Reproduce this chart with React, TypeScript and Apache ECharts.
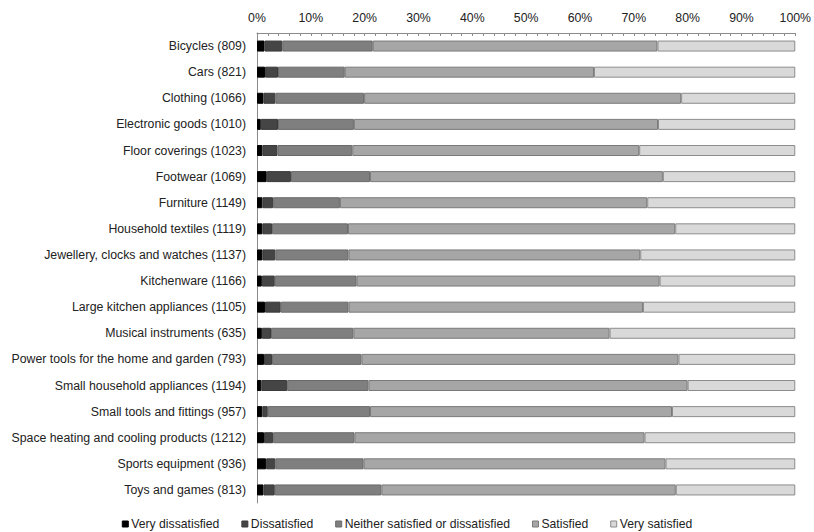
import React, { useEffect, useRef } from "react";
import * as echarts from "echarts";

const categories = [
  "Bicycles (809)",
  "Cars (821)",
  "Clothing (1066)",
  "Electronic goods (1010)",
  "Floor coverings (1023)",
  "Footwear (1069)",
  "Furniture (1149)",
  "Household textiles (1119)",
  "Jewellery, clocks and watches (1137)",
  "Kitchenware (1166)",
  "Large kitchen appliances (1105)",
  "Musical instruments (635)",
  "Power tools for the home and garden (793)",
  "Small household appliances (1194)",
  "Small tools and fittings (957)",
  "Space heating and cooling products (1212)",
  "Sports equipment (936)",
  "Toys and games (813)",
];

const veryDissatisfied = [1.4, 1.5, 1.2, 0.7, 1.0, 1.8, 1.0, 1.0, 1.0, 0.9, 1.5, 0.9, 1.3, 0.8, 1.0, 1.3, 1.7, 1.2];
const dissatisfied = [3.3, 2.4, 2.2, 3.2, 2.8, 4.5, 2.0, 1.8, 2.4, 2.4, 2.9, 1.7, 1.5, 4.8, 1.0, 1.7, 1.7, 2.1];
const neither = [16.8, 12.4, 16.5, 14.1, 13.9, 14.7, 12.4, 14.1, 13.6, 15.2, 12.6, 15.3, 16.6, 15.1, 19.0, 15.1, 16.4, 19.8];
const satisfied = [52.9, 46.3, 58.9, 56.5, 53.3, 54.4, 57.1, 60.8, 54.2, 56.3, 54.7, 47.6, 58.9, 59.3, 56.1, 53.9, 56.1, 54.7];
const verySatisfied = [25.6, 37.4, 21.2, 25.5, 29.0, 24.6, 27.5, 22.3, 28.8, 25.2, 28.3, 34.5, 21.7, 20.0, 22.9, 28.0, 24.1, 22.2];

const seriesNames = [
  "Very dissatisfied",
  "Dissatisfied",
  "Neither satisfied or dissatisfied",
  "Satisfied",
  "Very satisfied",
];
const seriesColors = ["#000000", "#454545", "#7f7f7f", "#a6a6a6", "#d9d9d9"];
const borderColors = ["#000000", "#3a3a3a", "#6a6a6a", "#7a7a7a", "#8c8c8c"];

export default function App() {
  const ref = useRef<HTMLDivElement>(null);
  useEffect(() => {
    if (!ref.current) return;
    const chart = echarts.init(ref.current, undefined, { renderer: "svg" });
    const values = [veryDissatisfied, dissatisfied, neither, satisfied, verySatisfied];
    const font = "Liberation Sans, Arial, sans-serif";
    chart.setOption({
      animation: false,
      textStyle: { fontFamily: font },
      grid: { left: 257, right: 15, top: 33, bottom: 29, containLabel: false },
      legend: {
        top: 513,
        left: "center",
        itemWidth: 6,
        itemHeight: 6,
        itemGap: 22,
        icon: "rect",
        textStyle: { fontSize: 12.2, color: "#222", fontFamily: font, padding: [0, 0, 0, -2] },
        data: seriesNames.map((n, i) => ({
          name: n,
          itemStyle: { color: seriesColors[i], borderColor: borderColors[i], borderWidth: 1 },
        })),
      },
      xAxis: {
        type: "value",
        position: "top",
        min: 0,
        max: 100,
        interval: 10,
        axisLabel: { formatter: "{value}%", fontSize: 12.3, color: "#222", margin: 9 },
        axisLine: { show: true, lineStyle: { color: "#8a8a8a", width: 1 } },
        axisTick: { show: true, inside: true, length: 3, lineStyle: { color: "#8a8a8a" } },
        minorTick: { show: true, splitNumber: 5, length: 3, lineStyle: { color: "#8a8a8a" } },
        splitLine: { show: false },
      },
      yAxis: {
        type: "category",
        inverse: true,
        data: categories,
        axisLine: { show: true, lineStyle: { color: "#8a8a8a", width: 1 } },
        axisTick: { show: false },
        axisLabel: { fontSize: 12.3, color: "#222", margin: 11 },
      },
      series: seriesNames.map((name, i) => ({
        name,
        type: "bar",
        stack: "total",
        barWidth: 11,
        data: values[i],
        itemStyle: { color: seriesColors[i], borderColor: borderColors[i], borderWidth: 1 },
        emphasis: { disabled: true },
      })),
    });
    return () => chart.dispose();
  }, []);
  return (
    <div
      ref={ref}
      style={{ position: "absolute", left: 0, top: 0, width: 814, height: 532 }}
    />
  );
}
